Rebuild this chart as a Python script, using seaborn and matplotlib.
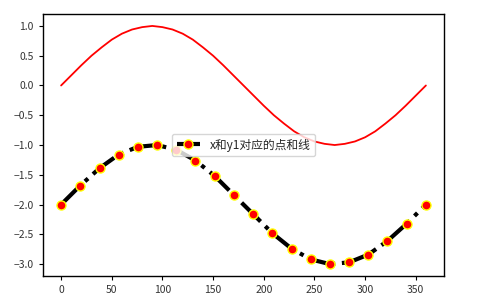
import matplotlib
matplotlib.use("Agg")
import matplotlib.pyplot as plt
import seaborn as sns
import pandas as pd

# red sine curve (degrees -> value)
x1 = [0, 10, 20, 30, 40, 50, 60, 70, 80, 90, 100, 110, 120, 130, 140, 150, 160, 170, 180,
      190, 200, 210, 220, 230, 240, 250, 260, 270, 280, 290, 300, 310, 320, 330, 340, 350, 360]
y1 = [0.0, 0.17, 0.34, 0.50, 0.64, 0.77, 0.87, 0.94, 0.98, 1.0, 0.98, 0.94, 0.87, 0.77, 0.64,
      0.50, 0.34, 0.17, 0.0, -0.17, -0.34, -0.50, -0.64, -0.77, -0.87, -0.94, -0.98, -1.0,
      -0.98, -0.94, -0.87, -0.77, -0.64, -0.50, -0.34, -0.17, 0.0]

# dash-dot series with markers
x2 = [0, 18.9, 37.9, 56.8, 75.8, 94.7, 113.7, 132.6, 151.6, 170.5, 189.5, 208.4, 227.4,
      246.3, 265.3, 284.2, 303.2, 322.1, 341.1, 360]
y2 = [-2.00, -1.68, -1.39, -1.16, -1.03, -1.00, -1.08, -1.26, -1.52, -1.84, -2.16, -2.48,
      -2.74, -2.92, -3.00, -2.97, -2.84, -2.61, -2.32, -2.00]
label2 = "x和y1对应的点和线"

xticks = [0, 50, 100, 150, 200, 250, 300, 350]
yticks = [1.0, 0.5, 0.0, -0.5, -1.0, -1.5, -2.0, -2.5, -3.0]

sns.set_theme(style="ticks")
plt.rcParams['font.family'] = ['Noto Sans CJK SC', 'DejaVu Sans']
plt.rcParams['axes.unicode_minus'] = True

fig = plt.figure(figsize=(4.87, 3.05), dpi=100)
ax = fig.add_axes([0.088, 0.095, 0.824, 0.859])

df1 = pd.DataFrame({"x": x1, "y": y1})
df2 = pd.DataFrame({"x": x2, "y": y2})

sns.lineplot(data=df1, x="x", y="y", ax=ax, color="red", linewidth=1.3, sort=False)
sns.lineplot(data=df2, x="x", y="y", ax=ax, color="black", linewidth=3.0, linestyle="-.",
             marker="o", markersize=6.5, markerfacecolor="red", markeredgecolor="yellow",
             markeredgewidth=1.0, label=label2, sort=False)

ax.set_xlabel("")
ax.set_ylabel("")
ax.set_xticks(xticks)
ax.set_yticks(yticks)
ax.set_xlim(-18, 378)
ax.set_ylim(-3.2, 1.2)
for s in ax.spines.values():
    s.set_visible(True)
    s.set_color("black")
    s.set_linewidth(1.0)
ax.tick_params(labelsize=7.5, length=3, width=0.8, colors='black', labelcolor='#333333')

leg = ax.legend(loc="center", fontsize=8.5, frameon=True, handlelength=2.0)
leg.get_frame().set_edgecolor("#cccccc")

fig.savefig("out.png", dpi=100)
